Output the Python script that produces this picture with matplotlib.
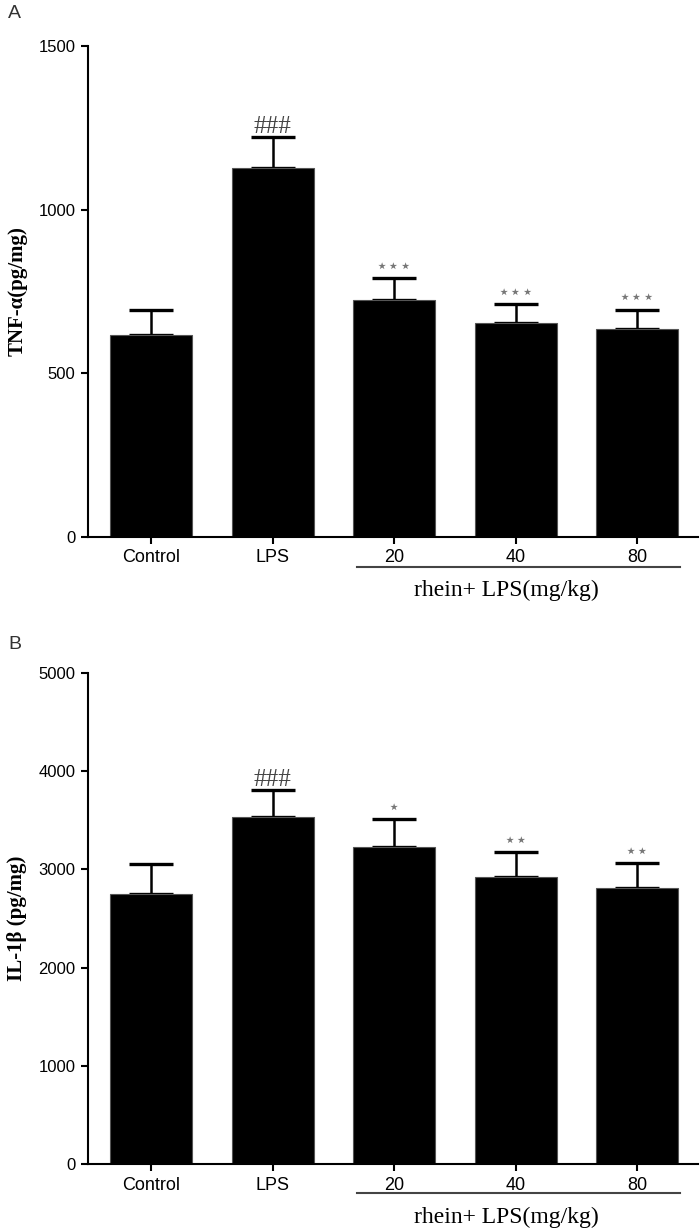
import numpy as np
import matplotlib.pyplot as plt

groups = ["Control", "LPS", "20", "40", "80"]

tnf_mean = [617, 1127, 724, 654, 635]
tnf_err = [77, 95, 66, 57, 60]
tnf_marks = ["", "###", "***", "***", "***"]

il1b_mean = [2747, 3530, 3225, 2925, 2810]
il1b_err = [305, 280, 290, 250, 255]
il1b_marks = ["", "###", "*", "**", "**"]

plt.rcParams['font.family'] = ['Liberation Sans', 'DejaVu Sans']

fig = plt.figure(figsize=(7, 12.31), dpi=100)


def draw_panel(rect, means, errs, marks, ymax, step, ylabel, letter, letter_y, line_y, text_y):
    ax = fig.add_axes(rect)
    x = np.arange(len(groups))
    ax.bar(x, means, width=0.675, color="black", edgecolor="#555555", linewidth=0.8, zorder=2)
    ax.errorbar(x, means, yerr=[np.zeros(len(errs)), errs], fmt="none", ecolor="black",
                elinewidth=1.8, capsize=15.5, capthick=2.4, zorder=1)
    for xi, m, e, s in zip(x, means, errs, marks):
        if not s:
            continue
        if s.startswith("#"):
            ax.text(xi, m + e - ymax * 0.002, s, ha="center", va="bottom", fontsize=18,
                    family="Liberation Serif", color="#444444")
        else:
            ax.text(xi, m + e + ymax * 0.005, s.replace("*", "\u22c6"), ha="center", va="bottom",
                    fontsize=14, family="DejaVu Sans", color="#777777")
    ax.set_xlim(-0.52, 4.5)
    ax.set_ylim(0, ymax)
    ax.set_yticks(np.arange(0, ymax + 1, step))
    ax.set_xticks(x)
    ax.set_xticklabels(groups)
    ax.spines["top"].set_visible(False)
    ax.spines["right"].set_visible(False)
    for sp in ("left", "bottom"):
        ax.spines[sp].set_linewidth(1.5)
    ax.tick_params(direction="out", length=5, width=1.5, pad=4)
    ax.tick_params(axis="y", labelsize=12)
    ax.tick_params(axis="x", labelsize=13)
    ax.set_ylabel(ylabel, family="Liberation Serif", fontweight="bold", fontsize=15, labelpad=8)
    fig.text(8 / 700, letter_y, letter, fontsize=14, color="#333333", va="top", ha="left")
    fig.add_artist(plt.Line2D([357 / 700, 680 / 700], [line_y, line_y], color="#444444", lw=1.5))
    fig.text(506 / 700, text_y, "rhein+ LPS(mg/kg)", family="Liberation Serif", fontsize=17,
             ha="center", va="center")
    return ax


draw_panel([88 / 700, 1 - 537 / 1231, 610 / 700, 491 / 1231], tnf_mean, tnf_err, tnf_marks,
           1500, 500, "TNF-\u03b1(pg/mg)", "A", 1 - 5 / 1231, 1 - 567 / 1231, 1 - 590 / 1231)
draw_panel([88 / 700, 1 - 1164 / 1231, 610 / 700, 491 / 1231], il1b_mean, il1b_err, il1b_marks,
           5000, 1000, "IL-1\u03b2 (pg/mg)", "B", 1 - 636 / 1231, 1 - 1193 / 1231, 1 - 1217 / 1231)

plt.savefig("out.png", dpi=100)
